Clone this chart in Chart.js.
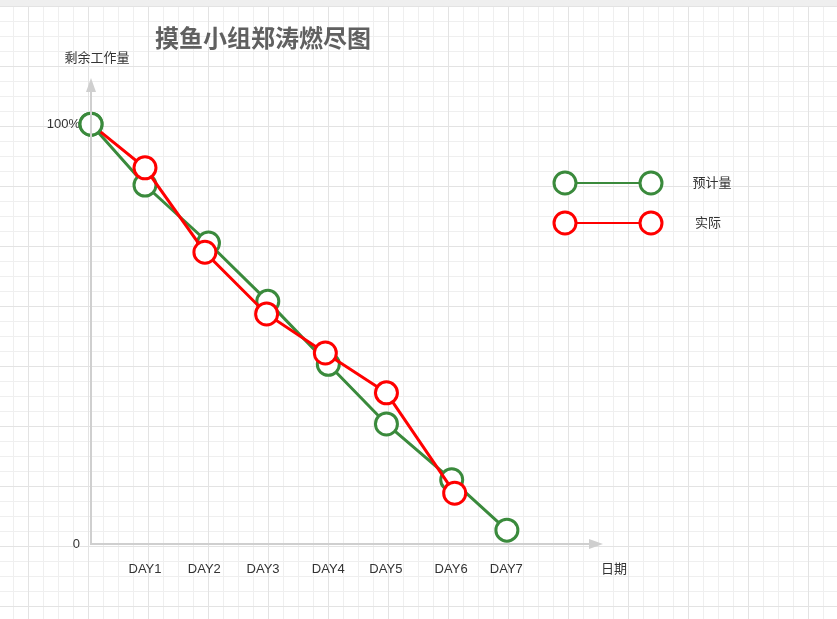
<!DOCTYPE html>
<html>
<head>
<meta charset="utf-8">
<script src="https://cdn.jsdelivr.net/npm/chart.js@4/dist/chart.umd.min.js"></script>
<style>
  html, body { margin: 0; padding: 0; }
  body {
    width: 837px; height: 619px; overflow: hidden; position: relative;
    background-color: #fff;
    background-image:
      linear-gradient(#e3e3e3 1px, transparent 1px),
      linear-gradient(90deg, #e3e3e3 1px, transparent 1px),
      linear-gradient(#efefef 1px, transparent 1px),
      linear-gradient(90deg, #efefef 1px, transparent 1px);
    background-size: 60px 60px, 60px 60px, 15px 15px, 15px 15px;
    background-position: 28px 6px;
  }
  .topbar { position: absolute; left: 0; top: 0; width: 837px; height: 6px; background: #efefef; }
  #wrap { position: absolute; left: 0; top: 0; width: 837px; height: 619px; }
</style>
</head>
<body>
<div class="topbar"></div>
<div id="wrap"><canvas id="chart"></canvas></div>
<script>
const title = '摸鱼小组郑涛燃尽图';
const yTitle = '剩余工作量';
const xTitle = '日期';

const dayLabels = ['DAY1', 'DAY2', 'DAY3', 'DAY4', 'DAY5', 'DAY6', 'DAY7'];
const dayTickPos = [0.91, 1.91, 2.90, 4.00, 4.97, 6.07, 7.00];

const yTickValues = [0, 100];
const yTickLabels = ['0', '100%'];

const plannedName = '预计量';
const plannedX = [0, 0.91, 1.98, 2.98, 4.00, 4.98, 6.08, 7.01];
const plannedY = [100, 85.5, 71.7, 57.8, 42.8, 28.6, 15.3, 3.3];

const actualName = '实际';
const actualX = [0, 0.91, 1.92, 2.96, 3.95, 4.98, 6.13];
const actualY = [100, 89.6, 69.5, 54.8, 45.5, 36.0, 12.1];

const GREEN = '#3a8a3c';
const RED = '#ff0000';
const AXIS = '#cfcfcf';
const FONT = "'Liberation Sans', 'Noto Sans CJK SC', sans-serif";

const toPoints = (xs, ys) => xs.map((x, i) => ({ x: x, y: ys[i] }));

// axes with arrows, titles and the hand-made legend
const decor = {
    id: 'decor',
    afterDatasetsDraw(chart) {
        const ctx = chart.ctx;
        const xs = chart.scales.x, ys = chart.scales.y;
        const x0 = xs.getPixelForValue(0), y0 = ys.getPixelForValue(0);
        const xEnd = xs.right, yTop = ys.top;
        ctx.save();
        ctx.strokeStyle = AXIS;
        ctx.fillStyle = AXIS;
        ctx.lineWidth = 2;
        ctx.beginPath();
        ctx.moveTo(x0, yTop + 12);
        ctx.lineTo(x0, y0);
        ctx.lineTo(xEnd - 12, y0);
        ctx.stroke();
        ctx.beginPath();
        ctx.moveTo(x0, yTop);
        ctx.lineTo(x0 - 5, yTop + 14);
        ctx.lineTo(x0 + 5, yTop + 14);
        ctx.closePath();
        ctx.fill();
        ctx.beginPath();
        ctx.moveTo(xEnd, y0);
        ctx.lineTo(xEnd - 14, y0 - 5);
        ctx.lineTo(xEnd - 14, y0 + 5);
        ctx.closePath();
        ctx.fill();

        ctx.textAlign = 'center';
        ctx.textBaseline = 'middle';
        ctx.fillStyle = '#606060';
        ctx.font = "bold 24px 'Noto Sans CJK SC', sans-serif";
        ctx.fillText(title, 263, 38);
        ctx.fillStyle = '#333';
        ctx.font = "13px " + FONT;
        ctx.fillText(yTitle, 97, 58);
        ctx.fillText(xTitle, 614, 569);

        // legend
        const items = [
            { name: plannedName, color: GREEN, y: 183, tx: 712 },
            { name: actualName, color: RED, y: 223, tx: 708 }
        ];
        items.forEach(it => {
            ctx.strokeStyle = it.color;
            ctx.lineWidth = 2;
            ctx.beginPath();
            ctx.moveTo(565, it.y);
            ctx.lineTo(651, it.y);
            ctx.stroke();
            ctx.lineWidth = 3;
            [565, 651].forEach(cx => {
                ctx.beginPath();
                ctx.arc(cx, it.y, 11, 0, Math.PI * 2);
                ctx.fillStyle = '#fff';
                ctx.fill();
                ctx.stroke();
            });
            ctx.fillStyle = '#333';
            ctx.fillText(it.name, it.tx, it.y);
        });
        ctx.restore();
    }
};

new Chart(document.getElementById('chart'), {
    type: 'line',
    data: {
        datasets: [
            {
                label: plannedName,
                data: toPoints(plannedX, plannedY),
                borderColor: GREEN,
                backgroundColor: '#fff',
                borderWidth: 3,
                pointRadius: 11,
                pointBorderWidth: 3,
                pointBackgroundColor: '#fff',
                pointBorderColor: GREEN,
                tension: 0,
                clip: false,
                order: 2
            },
            {
                label: actualName,
                data: toPoints(actualX, actualY),
                borderColor: RED,
                backgroundColor: '#fff',
                borderWidth: 3,
                pointRadius: 11,
                pointBorderWidth: 3,
                pointBackgroundColor: '#fff',
                // the shared start point shows the green ring in the original
                pointBorderColor: c => c.dataIndex === 0 ? GREEN : RED,
                tension: 0,
                clip: false,
                order: 1
            }
        ]
    },
    options: {
        responsive: true,
        maintainAspectRatio: false,
        animation: false,
        layout: { padding: { left: 41, right: 234, top: 78, bottom: 35 } },
        plugins: {
            legend: { display: false },
            tooltip: { enabled: false }
        },
        scales: {
            x: {
                type: 'linear',
                min: 0,
                max: 8.63,
                grid: { display: false, drawTicks: false },
                border: { display: false },
                afterBuildTicks: s => { s.ticks = dayTickPos.map(v => ({ value: v })); },
                afterFit: s => { s.height = 40; },
                ticks: {
                    autoSkip: false,
                    maxRotation: 0,
                    padding: 18,
                    color: '#333',
                    font: { family: FONT, size: 13 },
                    callback: (v, i) => dayLabels[i]
                }
            },
            y: {
                min: 0,
                max: 111,
                grid: { display: false, drawTicks: false },
                border: { display: false },
                afterBuildTicks: s => { s.ticks = yTickValues.map(v => ({ value: v })); },
                afterFit: s => { s.width = 50; },
                ticks: {
                    padding: 11,
                    color: '#333',
                    font: { family: FONT, size: 13 },
                    callback: (v, i) => yTickLabels[i]
                }
            }
        }
    },
    plugins: [decor]
});
</script>
</body>
</html>
